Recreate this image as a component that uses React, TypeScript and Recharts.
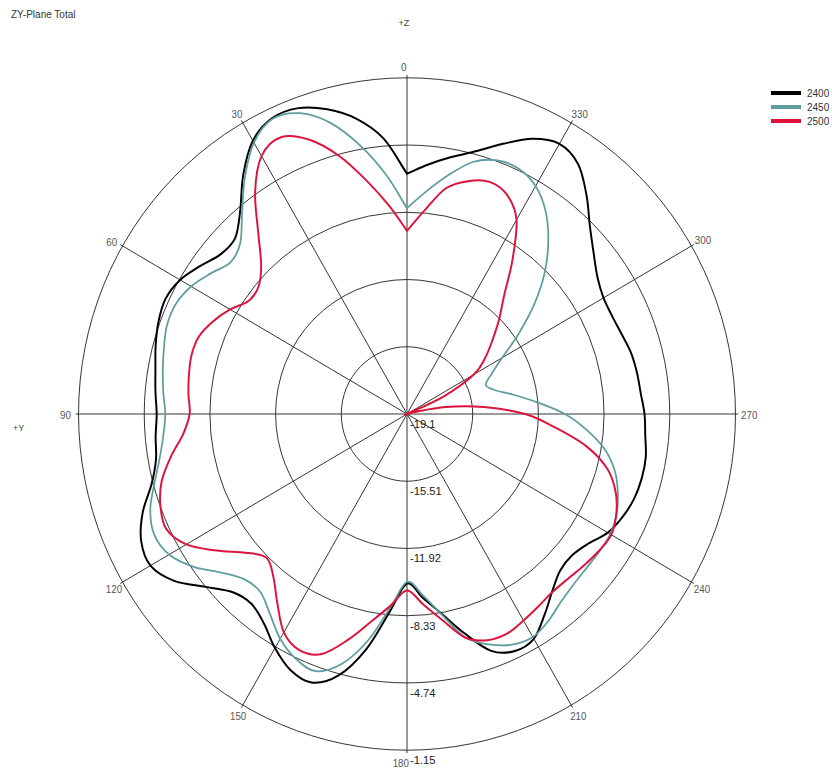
import { RadarChart, Radar, PolarGrid, PolarAngleAxis, PolarRadiusAxis } from 'recharts'

const W = 832
const H = 773
const CX = 407
const CY = 414
const R = 339
// the source picture is slightly narrower than tall
const SQUASH = 0.977
const FONT = '"Liberation Sans", Arial, sans-serif'

const angles = [
  0, 5, 10, 15, 20, 25, 30, 35, 40, 45, 50, 55, 60, 65, 70, 75, 80, 85,
  90, 95, 100, 105, 110, 115, 120, 125, 130, 135, 140, 145, 150, 155, 160, 165, 170, 175,
  180, 185, 190, 195, 200, 205, 210, 215, 220, 225, 230, 235, 240, 245, 250, 255, 260, 265,
  270, 275, 280, 285, 290, 295, 300, 305, 310, 315, 320, 325, 330, 335, 340, 345, 350, 355,
]

const gain2400 = [
  -6.27, -4.33, -3.09, -2.26, -1.72, -1.67, -2.25, -3.5, -4.92, -5.82, -5.82, -5.31, -4.78, -4.54, -4.65, -4.88, -5.14, -5.3,
  -5.42, -5.31, -5.17, -4.65, -3.73, -3.07, -2.91, -3.57, -4.74, -5.64, -5.87, -5.46, -4.67, -4.02, -3.84, -4.65, -6.37, -8.55,
  -10.05, -9.25, -8.28, -6.98, -5.64, -5.14, -5.24, -6.0, -6.75, -7.27, -7.34, -7.02, -6.43, -6.1, -5.89, -5.82, -5.85, -6.03,
  -6.12, -6.28, -6.34, -6.43, -6.62, -6.73, -6.7, -6.39, -5.78, -4.96, -3.84, -2.8, -2.44, -2.89, -3.75, -4.58, -5.17, -5.73,
]

const gain2450 = [
  -8.11, -6.32, -4.58, -3.02, -2.01, -1.71, -2.37, -3.66, -5.08, -6.21, -6.5, -6.01, -5.48, -5.17, -5.15, -5.35, -5.55, -5.73,
  -5.89, -5.73, -5.37, -4.81, -4.17, -3.86, -4.09, -4.87, -5.91, -6.59, -6.66, -6.05, -5.24, -4.69, -4.49, -5.28, -6.82, -8.74,
  -10.14, -9.41, -8.24, -6.75, -6.01, -5.51, -5.35, -5.62, -6.01, -6.23, -6.3, -6.28, -6.27, -6.46, -6.84, -7.34, -8.11, -9.23,
  -10.47, -11.96, -13.18, -14.15, -14.52, -13.98, -13.1, -11.67, -10.04, -8.47, -7.09, -5.89, -5.05, -4.65, -4.69, -5.17, -6.16, -7.18,
]

const gain2500 = [
  -9.32, -7.95, -6.46, -4.85, -3.52, -2.8, -3.2, -4.63, -6.45, -7.83, -8.51, -8.55, -7.94, -7.4, -7.0, -6.91, -7.0, -7.11,
  -7.22, -6.82, -6.0, -5.22, -4.76, -4.58, -5.17, -6.39, -7.58, -8.24, -7.74, -6.75, -5.64, -5.19, -5.46, -6.61, -7.85, -8.83,
  -9.68, -8.89, -7.92, -6.73, -6.25, -6.16, -6.37, -6.57, -6.71, -6.66, -6.5, -6.32, -6.21, -6.48, -6.97, -7.76, -9.14, -11.0,
  -12.64, -14.88, -16.95, -18.74, -19.1, -16.93, -14.88, -13.89, -13.02, -11.99, -10.84, -9.05, -7.13, -6.18, -5.91, -6.23, -6.86, -8.2,
]

const radiusTicks = [-19.1, -15.51, -11.92, -8.33, -4.74, -1.15]
const angleLabels = [0, 30, 60, 90, 120, 150, 180, 210, 240, 270, 300, 330]
// the patterns have a sharp notch straight up
const cornerAngles = [0]

const series = [
  { key: 'f2400', name: '2400', color: '#000000', width: 2 },
  { key: 'f2450', name: '2450', color: '#5f9ea0', width: 1.8 },
  { key: 'f2500', name: '2500', color: '#dc143c', width: 2 },
]

const data = angles.map((angle, i) => ({
  angle,
  f2400: gain2400[i],
  f2450: gain2450[i],
  f2500: gain2500[i],
}))

// where each angle label sits relative to the end of its spoke
const labelPos: Record<number, [number, number, 'start' | 'end']> = {
  0: [-0.5, -3.5, 'end'],
  30: [1, -2, 'end'],
  60: [-3, 2, 'end'],
  90: [-5, 5, 'end'],
  120: [2, 10, 'end'],
  150: [5, 12.5, 'end'],
  180: [2, 14, 'end'],
  210: [-2.5, 12.5, 'start'],
  240: [0, 10, 'start'],
  270: [3, 5, 'start'],
  300: [1, 0, 'start'],
  330: [-1, -2, 'start'],
}

type Pt = { x: number; y: number; payload?: { angle: number } }

const isCorner = (p: Pt) => !!p.payload && cornerAngles.includes(p.payload.angle)

// closed catmull-rom through the radar's own points, keeping the notches sharp
function smoothClosed(pts: Pt[]): string {
  const n = pts.length
  if (n < 3) return ''
  let d = `M${pts[0].x},${pts[0].y}`
  for (let i = 0; i < n; i++) {
    const p0 = pts[(i - 1 + n) % n]
    const p1 = pts[i]
    const p2 = pts[(i + 1) % n]
    const p3 = pts[(i + 2) % n]
    let c1x = p1.x + (p2.x - p0.x) / 6
    let c1y = p1.y + (p2.y - p0.y) / 6
    let c2x = p2.x - (p3.x - p1.x) / 6
    let c2y = p2.y - (p3.y - p1.y) / 6
    if (isCorner(p1)) {
      c1x = p1.x + (p2.x - p1.x) / 3
      c1y = p1.y + (p2.y - p1.y) / 3
    }
    if (isCorner(p2)) {
      c2x = p2.x - (p2.x - p1.x) / 3
      c2y = p2.y - (p2.y - p1.y) / 3
    }
    d += `C${c1x},${c1y} ${c2x},${c2y} ${p2.x},${p2.y}`
  }
  return d + 'Z'
}

// eslint-disable-next-line @typescript-eslint/no-explicit-any
const SmoothShape = ({ points, color, width }: any) => (
  <path d={smoothClosed(points)} fill="none" stroke={color} strokeWidth={width} strokeLinejoin="round" />
)

// eslint-disable-next-line @typescript-eslint/no-explicit-any
const RadiusTick = ({ x, y, payload }: any) => (
  <text x={x + 3} y={y + 14} textAnchor="start" fontSize={11.5} fill="#222" fontFamily={FONT}>
    {payload.value}
  </text>
)

export default function App() {
  return (
    <div style={{ position: 'absolute', left: 0, top: 0, width: W, height: H, background: '#fff', overflow: 'hidden' }}>
      <div
        style={{
          position: 'absolute',
          left: 0,
          top: 0,
          transform: `scaleX(${SQUASH})`,
          transformOrigin: `${CX}px ${CY}px`,
        }}
      >
        <RadarChart
          width={W}
          height={H}
          cx={CX}
          cy={CY}
          innerRadius={0}
          outerRadius={R}
          startAngle={90}
          endAngle={450}
          data={data}
          margin={{ top: 0, right: 0, bottom: 0, left: 0 }}
        >
          <PolarGrid
            gridType="circle"
            stroke="#333"
            strokeWidth={1}
            polarAngles={angleLabels.map((a) => 90 + a)}
          />
          <PolarAngleAxis
            dataKey="angle"
            type="number"
            domain={[0, 360]}
            ticks={angleLabels}
            tick={false}
            tickLine={false}
            axisLine={false}
          />
          <PolarRadiusAxis
            angle={-90}
            type="number"
            domain={[-19.1, -1.15]}
            ticks={radiusTicks}
            tickCount={6}
            axisLine={false}
            tick={RadiusTick}
          />
          {series.map((s) => (
            <Radar
              key={s.key}
              name={s.name}
              dataKey={s.key}
              stroke={s.color}
              fill="none"
              fillOpacity={0}
              dot={false}
              isAnimationActive={false}
              // eslint-disable-next-line @typescript-eslint/no-explicit-any
              shape={(p: any) => <SmoothShape {...p} color={s.color} width={s.width} />}
            />
          ))}
          {angleLabels.map((a) => {
            const rad = ((90 + a) * Math.PI) / 180
            const [dx, dy, anchor] = labelPos[a]
            return (
              <text
                key={a}
                x={CX + R * Math.cos(rad) + dx}
                y={CY - R * Math.sin(rad) + dy}
                textAnchor={anchor}
                fontSize={10}
                fill="#555"
                fontFamily={FONT}
              >
                {a}
              </text>
            )
          })}
        </RadarChart>
      </div>
      <svg width={W} height={H} style={{ position: 'absolute', left: 0, top: 0, pointerEvents: 'none' }}>
        <text x={11} y={17.5} fontSize={10} fill="#333" fontFamily={FONT}>
          ZY-Plane Total
        </text>
        <text x={404} y={26} textAnchor="middle" fontSize={9} fill="#444" fontFamily={FONT}>
          +Z
        </text>
        <text x={13} y={431} fontSize={9} fill="#444" fontFamily={FONT}>
          +Y
        </text>
        {series.map((s, i) => (
          <g key={s.key}>
            <line x1={771} x2={801} y1={93 + i * 14} y2={93 + i * 14} stroke={s.color} strokeWidth={4} />
            <text x={807} y={96.5 + i * 14} fontSize={10} fill="#333" fontFamily={FONT}>
              {s.name}
            </text>
          </g>
        ))}
      </svg>
    </div>
  )
}
